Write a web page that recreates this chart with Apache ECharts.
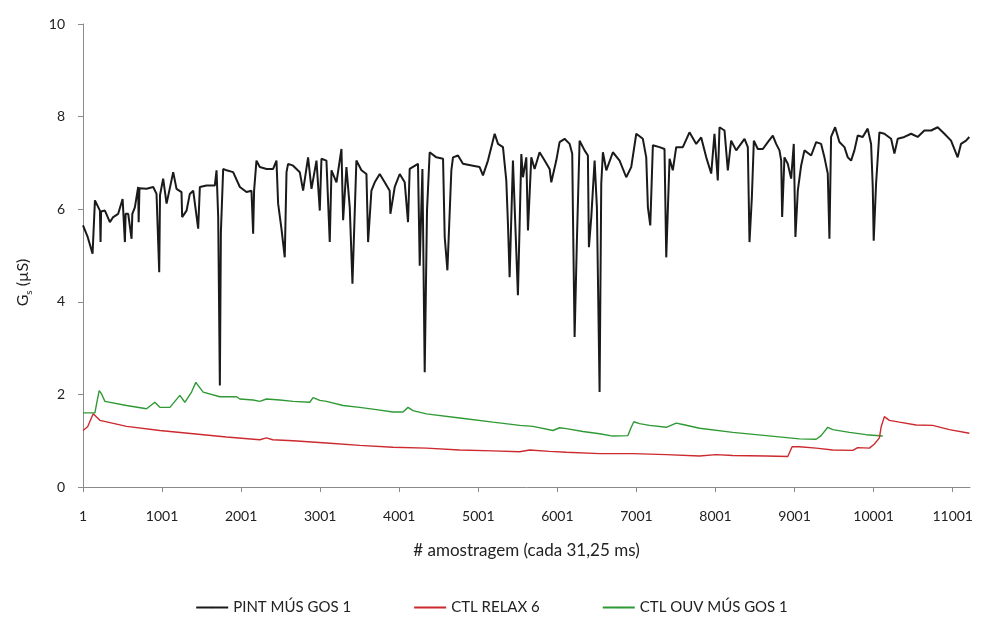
<!DOCTYPE html>
<html>
<head>
<meta charset="utf-8">
<script src="https://cdn.jsdelivr.net/npm/echarts@6/dist/echarts.min.js"></script>
<style>
	html, body { margin: 0; padding: 0; background: #fff; }
	#main { width: 983px; height: 642px; }
</style>
</head>
<body>
<div id="main"></div>
<script>
// tick positions on the sample axis (labels 1, 1001, ... 11001)
var xTicks = [1, 1001, 2001, 3001, 4001, 5001, 6001, 7001, 8001, 9001, 10001, 11001];

// [sample, Gs]
var pintMus = [
	[1, 5.65], [60, 5.4], [122, 5.04], [152, 6.19], [215, 5.97], [223, 5.29], [230, 5.95], [278, 5.97],
	[341, 5.72], [383, 5.83], [446, 5.90], [502, 6.22], [531, 5.29], [540, 5.9], [573, 5.90], [615, 5.36],
	[625, 5.9], [657, 6.04], [699, 6.48], [705, 5.72], [715, 6.45], [805, 6.44], [889, 6.48], [931, 6.33],
	[965, 4.64], [975, 6.3], [1015, 6.66], [1058, 6.12], [1142, 6.80], [1184, 6.44], [1247, 6.37], [1255, 5.83],
	[1311, 5.97], [1352, 6.33], [1395, 6.40], [1458, 5.58], [1479, 6.48], [1563, 6.51], [1668, 6.51], [1690, 6.84],
	[1711, 5.83], [1732, 2.19], [1745, 5.5], [1774, 6.87], [1816, 6.84], [1900, 6.80], [1985, 6.48], [2069, 6.37],
	[2132, 6.40], [2153, 5.47], [2165, 6.4], [2195, 7.05], [2237, 6.91], [2322, 6.87], [2406, 6.87], [2448, 7.05],
	[2469, 6.12], [2511, 5.58], [2553, 4.96], [2575, 6.8], [2595, 6.98], [2659, 6.94], [2743, 6.80], [2785, 6.40],
	[2848, 7.12], [2891, 6.44], [2954, 7.05], [2996, 5.97], [3017, 7.09], [3080, 7.05], [3122, 5.29], [3144, 6.84],
	[3207, 6.58], [3270, 7.30], [3291, 5.76], [3333, 6.91], [3375, 6.04], [3409, 4.39], [3459, 7.05], [3523, 6.84],
	[3586, 6.76], [3607, 5.29], [3649, 6.40], [3691, 6.58], [3754, 6.76], [3817, 6.58], [3880, 6.40], [3889, 5.90],
	[3944, 6.48], [4007, 6.76], [4070, 6.58], [4112, 5.72], [4133, 6.87], [4238, 6.98], [4260, 4.78], [4294, 6.87],
	[4323, 2.48], [4352, 5.97], [4386, 7.23], [4470, 7.12], [4555, 7.09], [4576, 5.40], [4610, 4.68], [4660, 6.84],
	[4681, 7.12], [4744, 7.16], [4807, 6.98], [4934, 6.94], [5018, 6.91], [5060, 6.73], [5123, 7.05], [5208, 7.63],
	[5250, 7.41], [5313, 7.34], [5355, 6.62], [5376, 5.68], [5397, 4.53], [5439, 7.05], [5502, 4.14], [5545, 7.19],
	[5566, 6.69], [5608, 7.12], [5629, 5.54], [5671, 7.12], [5713, 6.87], [5776, 7.23], [5840, 7.05], [5903, 6.87],
	[5924, 6.58], [5987, 7.05], [6029, 7.45], [6092, 7.52], [6156, 7.41], [6189, 7.20], [6198, 5.90], [6219, 3.24],
	[6248, 5.32], [6282, 7.48], [6345, 7.27], [6387, 7.16], [6400, 5.18], [6430, 5.83], [6472, 7.05], [6501, 6.04],
	[6535, 2.05], [6556, 6.55], [6577, 7.23], [6620, 6.84], [6703, 7.23], [6788, 7.05], [6872, 6.69], [6935, 6.91],
	[6999, 7.63], [7082, 7.52], [7125, 7.12], [7146, 6.04], [7176, 5.65], [7209, 7.38], [7293, 7.34], [7356, 7.30],
	[7378, 4.96], [7420, 7.09], [7461, 6.84], [7504, 7.34], [7588, 7.34], [7672, 7.66], [7757, 7.41], [7820, 7.55],
	[7884, 7.12], [7947, 6.77], [7988, 7.63], [8030, 6.62], [8052, 7.77], [8115, 7.70], [8157, 6.84], [8199, 7.48],
	[8263, 7.27], [8368, 7.52], [8410, 7.34], [8431, 5.29], [8461, 6.26], [8486, 7.48], [8536, 7.30], [8600, 7.30],
	[8663, 7.45], [8726, 7.59], [8768, 7.41], [8810, 7.27], [8832, 7.05], [8844, 5.83], [8873, 7.12], [8915, 6.98],
	[8958, 6.66], [8991, 7.41], [9012, 5.40], [9042, 6.40], [9084, 6.94], [9126, 7.27], [9211, 7.16], [9274, 7.45],
	[9337, 7.41], [9379, 7.12], [9421, 6.77], [9442, 5.36], [9463, 7.56], [9514, 7.77], [9568, 7.45], [9632, 7.34],
	[9674, 7.12], [9716, 7.05], [9758, 7.27], [9800, 7.59], [9863, 7.56], [9926, 7.74], [9969, 7.41], [9990, 6.48],
	[10002, 5.32], [10032, 6.55], [10074, 7.66], [10137, 7.63], [10222, 7.52], [10264, 7.20], [10306, 7.52], [10390, 7.56],
	[10475, 7.63], [10558, 7.56], [10643, 7.70], [10728, 7.70], [10811, 7.77], [10896, 7.63], [10980, 7.48], [11064, 7.12],
	[11106, 7.41], [11170, 7.48], [11211, 7.56]
];

var ctlRelax = [
	[1, 1.22], [60, 1.3], [130, 1.58], [215, 1.44], [552, 1.31], [973, 1.22], [1394, 1.15], [1816, 1.08],
	[2237, 1.02], [2322, 1.06], [2400, 1.02], [2659, 1.00], [3080, 0.95], [3501, 0.90], [3922, 0.86], [4344, 0.84],
	[4765, 0.80], [5186, 0.78], [5524, 0.76], [5650, 0.80], [5903, 0.77], [6114, 0.75], [6535, 0.72], [6956, 0.72],
	[7378, 0.70], [7799, 0.67], [8010, 0.70], [8220, 0.68], [8642, 0.67], [8915, 0.66], [8970, 0.87], [9063, 0.87],
	[9274, 0.84], [9484, 0.80], [9737, 0.79], [9800, 0.85], [9948, 0.84], [10011, 0.93], [10074, 1.06], [10095, 1.29],
	[10137, 1.52], [10200, 1.44], [10327, 1.40], [10538, 1.34], [10748, 1.33], [10959, 1.24], [11212, 1.16]
];

var ctlOuvMus = [
	[1, 1.60], [152, 1.60], [173, 1.80], [206, 2.08], [236, 2.01], [278, 1.85], [552, 1.76], [805, 1.69],
	[910, 1.83], [973, 1.72], [1100, 1.72], [1226, 1.98], [1289, 1.83], [1374, 2.05], [1428, 2.26], [1521, 2.05],
	[1732, 1.95], [1943, 1.95], [1985, 1.90], [2153, 1.88], [2237, 1.85], [2322, 1.90], [2490, 1.88], [2659, 1.85],
	[2869, 1.83], [2911, 1.93], [2996, 1.87], [3080, 1.85], [3291, 1.76], [3501, 1.72], [3712, 1.67], [3922, 1.62],
	[4049, 1.62], [4112, 1.72], [4175, 1.65], [4344, 1.58], [4765, 1.49], [5186, 1.40], [5524, 1.33], [5692, 1.31],
	[5945, 1.22], [6029, 1.28], [6114, 1.26], [6324, 1.20], [6535, 1.15], [6703, 1.10], [6893, 1.11], [6935, 1.29],
	[6968, 1.41], [7040, 1.37], [7167, 1.33], [7378, 1.29], [7504, 1.38], [7588, 1.35], [7799, 1.27], [8220, 1.18],
	[8642, 1.11], [9063, 1.04], [9274, 1.03], [9337, 1.11], [9421, 1.29], [9484, 1.24], [9695, 1.18], [9906, 1.13],
	[10116, 1.10]
];

var seriesNames = ['PINT MÚS GOS 1', 'CTL RELAX 6', 'CTL OUV MÚS GOS 1'];
var seriesColors = ['#1a1a1a', '#cc2a2f', '#2f9a35'];

var font = 'Lato, "Open Sans", sans-serif';
var chart = echarts.init(document.getElementById('main'));

function lineSeries(i, data, width) {
	return {
		name: seriesNames[i],
		type: 'line',
		data: data,
		symbol: 'none',
		showSymbol: false,
		lineStyle: { color: seriesColors[i], width: width },
		itemStyle: { color: seriesColors[i] },
		z: 3 - i
	};
}

chart.setOption({
	animation: false,
	grid: { left: 83, right: 13, top: 24, bottom: 155 },
	legend: {
		bottom: 22,
		left: 'center',
		itemWidth: 32,
		itemHeight: 2,
		itemGap: 62,
		textStyle: { fontFamily: font, fontSize: 15, color: '#222' },
		data: seriesNames
	},
	xAxis: {
		type: 'value',
		min: 1,
		max: 11220,
		name: '# amostragem (cada 31,25 ms)',
		nameLocation: 'middle',
		nameGap: 55,
		nameTextStyle: { fontFamily: font, fontSize: 17, color: '#222' },
		axisLine: { show: true, lineStyle: { color: '#8a8a8a' } },
		axisTick: { show: true, length: 5, customValues: xTicks, lineStyle: { color: '#8a8a8a' } },
		axisLabel: {
			customValues: xTicks,
			margin: 22,
			fontFamily: font,
			fontSize: 14,
			color: '#222',
			formatter: function(v) {
				return String(v);
			}
		},
		splitLine: { show: false }
	},
	yAxis: {
		type: 'value',
		min: 0,
		max: 10,
		interval: 2,
		name: '{g|G}{s|s}{g| (µS)}',
		nameLocation: 'middle',
		nameGap: 52,
		nameTextStyle: {
			padding: [0, 54, 0, 0],
			rich: {
				g: { fontFamily: font, fontSize: 16, color: '#222', lineHeight: 20, verticalAlign: 'bottom' },
				s: { fontFamily: font, fontSize: 10, color: '#222', lineHeight: 20, verticalAlign: 'bottom', padding: [0, 0, -3, 0] }
			}
		},
		axisLine: { show: true, lineStyle: { color: '#8a8a8a' } },
		axisTick: { show: true, length: 5, lineStyle: { color: '#8a8a8a' } },
		axisLabel: { margin: 18, fontFamily: font, fontSize: 14, color: '#222' },
		splitLine: { show: false }
	},
	series: [
		lineSeries(0, pintMus, 2),
		lineSeries(1, ctlRelax, 1.4),
		lineSeries(2, ctlOuvMus, 1.4)
	]
});
</script>
</body>
</html>
